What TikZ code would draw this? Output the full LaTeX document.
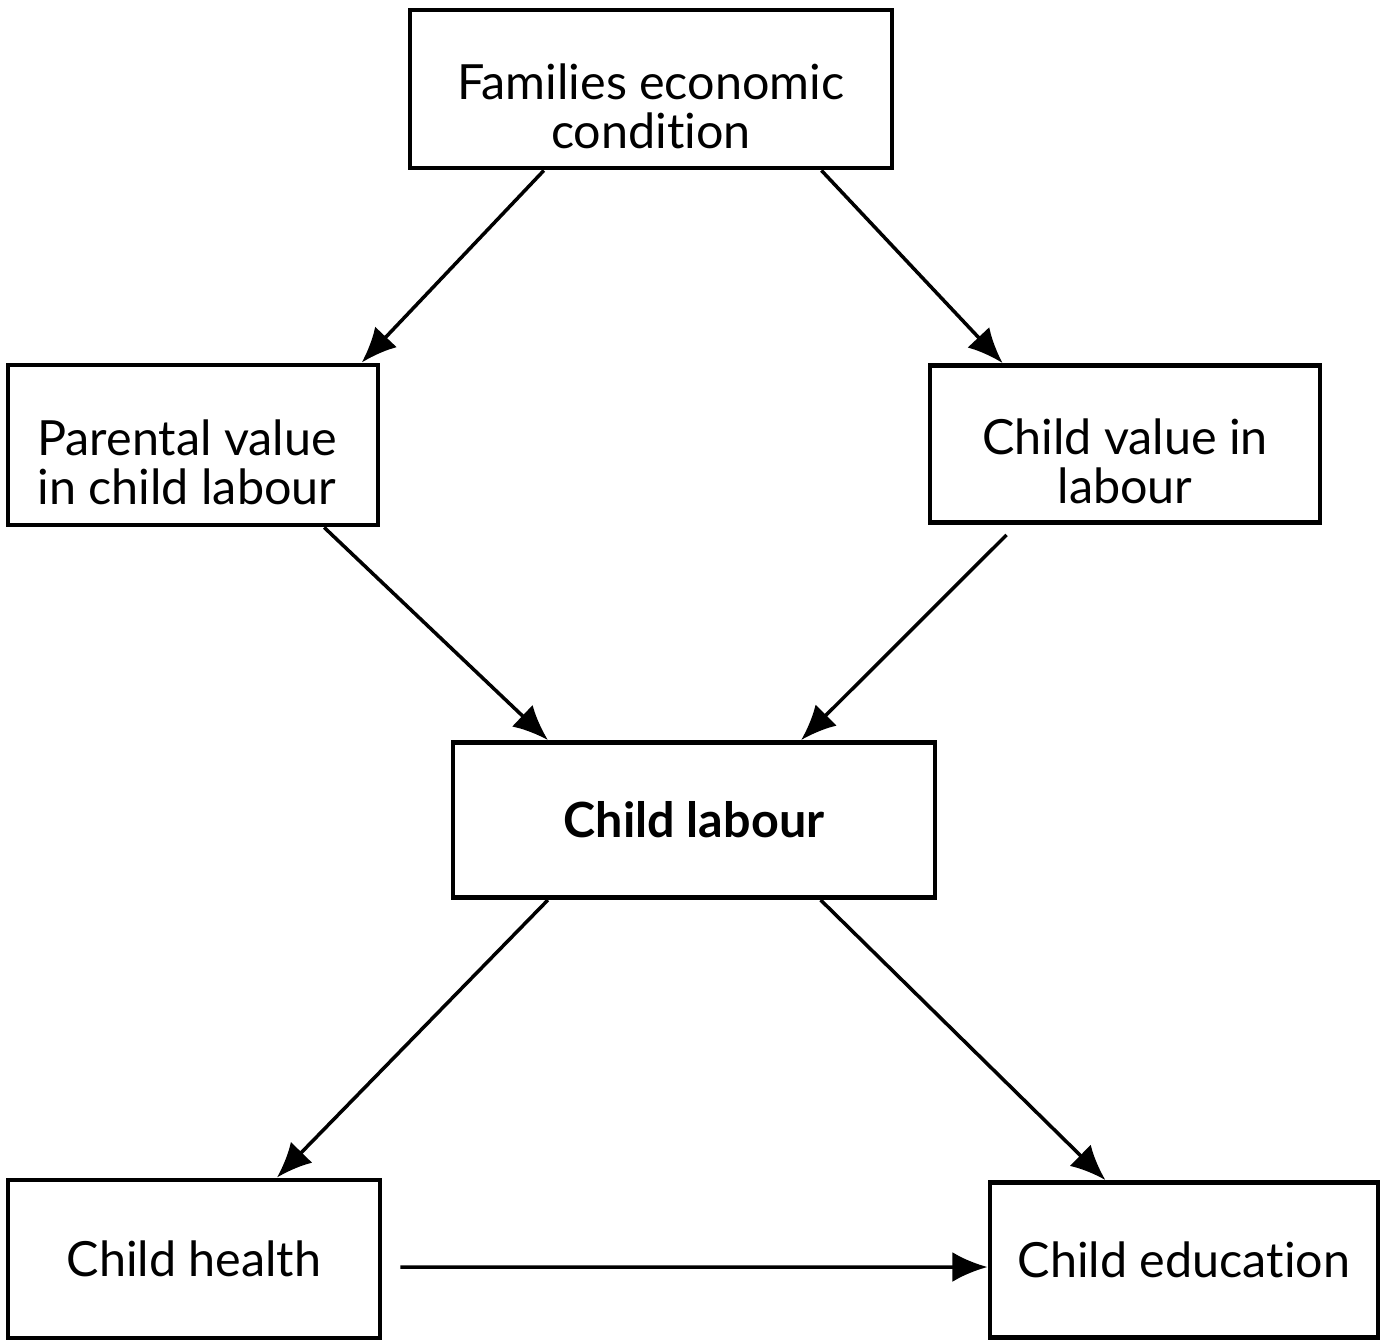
\documentclass[tikz,border=0pt]{standalone}
\usepackage{fontspec}
\setmainfont{Lato}[Ligatures=NoCommon]
\usetikzlibrary{
    arrows.meta,
    calc
}

\begin{document}
\begin{tikzpicture}[
    >={Latex[length=10pt,width=8.5pt]},
    box/.style={draw, line width=1.4pt, inner sep=0pt, align=center,
        font=\fontsize{13.8}{14}\selectfont},
    twoline/.style={align=center, inner sep=0pt, yshift=-0.17cm,
        font=\fontsize{13.8}{14}\selectfont},
    link/.style={->, line width=1pt}
]

\useasboundingbox (0,0) rectangle (13.83,13.41);

% Boxes
\node[box, minimum width=4.82cm, minimum height=1.58cm,
    label={[twoline]center:Families economic\\condition}] (econ) at (6.51,12.52) {};
\node[box, minimum width=3.70cm, minimum height=1.60cm,
    label={[twoline, xshift=-0.06cm]center:Parental value\\in child labour}] (parent) at (1.93,8.96) {};
\node[box, minimum width=3.90cm, minimum height=1.57cm,
    label={[twoline]center:Child value in\\labour}] (value) at (11.25,8.97) {};
\node[box, minimum width=4.82cm, minimum height=1.55cm] (labour) at (6.94,5.21)
    {\bfseries Child labour};
\node[box, minimum width=3.72cm, minimum height=1.58cm] (health) at (1.94,0.82)
    {Child health};
\node[box, minimum width=3.88cm, minimum height=1.55cm] (edu) at (11.84,0.81)
    {Child education};

% Arrows
\draw[link] ($(econ.south west)!0.28!(econ.south east)$)
    -- ($(parent.north west)!0.95!(parent.north east)$);
\draw[link] ($(econ.south west)!0.85!(econ.south east)$)
    -- ($(value.north west)!0.19!(value.north east)$);
\draw[link] ($(parent.south west)!0.85!(parent.south east)$)
    -- ($(labour.north west)!0.2!(labour.north east)$);
\draw[link] ($(value.south west)!0.2!(value.south east)$) ++(0,-0.1)
    -- ($(labour.north west)!0.72!(labour.north east)$);
\draw[link] ($(labour.south west)!0.2!(labour.south east)$)
    -- ($(health.north west)!0.72!(health.north east)$);
\draw[link] ($(labour.south west)!0.76!(labour.south east)$)
    -- ($(edu.north west)!0.3!(edu.north east)$);
\draw[link, shorten <=0.18cm] ([yshift=-0.08cm]health.east)
    -- ([yshift=-0.07cm]edu.west);

\end{tikzpicture}
\end{document}
